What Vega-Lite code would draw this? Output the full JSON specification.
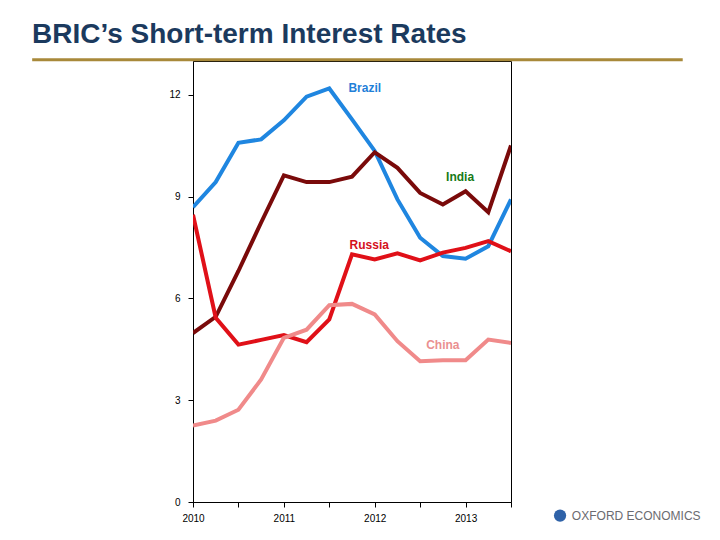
{
  "$schema": "https://vega.github.io/schema/vega-lite/v6.json",
  "autosize": {"type": "none"},
  "width": 318,
  "height": 441,
  "padding": {"left": 193, "top": 61, "right": 209, "bottom": 38},
  "background": "white",
  "config": {
    "font": "Liberation Sans",
    "view": {"stroke": "black", "strokeWidth": 1},
    "axis": {"grid": false, "domainColor": "black", "tickColor": "black", "labelColor": "black", "labelFontSize": 10, "labelFont": "Liberation Sans", "title": null}
  },
  "title": {
    "text": "BRIC’s Short-term Interest Rates",
    "anchor": "start",
    "frame": "group",
    "dx": -161,
    "offset": 9,
    "font": "Liberation Sans",
    "fontSize": 28,
    "fontWeight": "bold",
    "color": "#1b3a5e"
  },
  "datasets": {
    "rates": [
      {"date": 2010.0, "country": "Brazil", "rate": 8.69},
      {"date": 2010.25, "country": "Brazil", "rate": 9.43},
      {"date": 2010.5, "country": "Brazil", "rate": 10.59},
      {"date": 2010.75, "country": "Brazil", "rate": 10.69},
      {"date": 2011.0, "country": "Brazil", "rate": 11.25},
      {"date": 2011.25, "country": "Brazil", "rate": 11.95},
      {"date": 2011.5, "country": "Brazil", "rate": 12.19},
      {"date": 2011.75, "country": "Brazil", "rate": 11.28},
      {"date": 2012.0, "country": "Brazil", "rate": 10.35},
      {"date": 2012.25, "country": "Brazil", "rate": 8.92},
      {"date": 2012.5, "country": "Brazil", "rate": 7.79},
      {"date": 2012.75, "country": "Brazil", "rate": 7.25},
      {"date": 2013.0, "country": "Brazil", "rate": 7.17},
      {"date": 2013.25, "country": "Brazil", "rate": 7.54},
      {"date": 2013.5, "country": "Brazil", "rate": 8.92},
      {"date": 2010.0, "country": "India", "rate": 4.98},
      {"date": 2010.25, "country": "India", "rate": 5.46},
      {"date": 2010.5, "country": "India", "rate": 6.81},
      {"date": 2010.75, "country": "India", "rate": 8.24},
      {"date": 2011.0, "country": "India", "rate": 9.63},
      {"date": 2011.25, "country": "India", "rate": 9.43},
      {"date": 2011.5, "country": "India", "rate": 9.43},
      {"date": 2011.75, "country": "India", "rate": 9.59},
      {"date": 2012.0, "country": "India", "rate": 10.31},
      {"date": 2012.25, "country": "India", "rate": 9.85},
      {"date": 2012.5, "country": "India", "rate": 9.11},
      {"date": 2012.75, "country": "India", "rate": 8.77},
      {"date": 2013.0, "country": "India", "rate": 9.16},
      {"date": 2013.25, "country": "India", "rate": 8.54},
      {"date": 2013.5, "country": "India", "rate": 10.51},
      {"date": 2010.0, "country": "Russia", "rate": 8.47},
      {"date": 2010.25, "country": "Russia", "rate": 5.43},
      {"date": 2010.5, "country": "Russia", "rate": 4.64},
      {"date": 2010.75, "country": "Russia", "rate": 4.78},
      {"date": 2011.0, "country": "Russia", "rate": 4.92},
      {"date": 2011.25, "country": "Russia", "rate": 4.71},
      {"date": 2011.5, "country": "Russia", "rate": 5.38},
      {"date": 2011.75, "country": "Russia", "rate": 7.3},
      {"date": 2012.0, "country": "Russia", "rate": 7.15},
      {"date": 2012.25, "country": "Russia", "rate": 7.33},
      {"date": 2012.5, "country": "Russia", "rate": 7.12},
      {"date": 2012.75, "country": "Russia", "rate": 7.35},
      {"date": 2013.0, "country": "Russia", "rate": 7.49},
      {"date": 2013.25, "country": "Russia", "rate": 7.69},
      {"date": 2013.5, "country": "Russia", "rate": 7.39},
      {"date": 2010.0, "country": "China", "rate": 2.25},
      {"date": 2010.25, "country": "China", "rate": 2.4},
      {"date": 2010.5, "country": "China", "rate": 2.72},
      {"date": 2010.75, "country": "China", "rate": 3.61},
      {"date": 2011.0, "country": "China", "rate": 4.84},
      {"date": 2011.25, "country": "China", "rate": 5.08},
      {"date": 2011.5, "country": "China", "rate": 5.8},
      {"date": 2011.75, "country": "China", "rate": 5.84},
      {"date": 2012.0, "country": "China", "rate": 5.53},
      {"date": 2012.25, "country": "China", "rate": 4.74},
      {"date": 2012.5, "country": "China", "rate": 4.15},
      {"date": 2012.75, "country": "China", "rate": 4.18},
      {"date": 2013.0, "country": "China", "rate": 4.18},
      {"date": 2013.25, "country": "China", "rate": 4.79},
      {"date": 2013.5, "country": "China", "rate": 4.69}
    ],
    "labels": [
      {"date": 2011.89, "rate": 12.19, "country": "Brazil"},
      {"date": 2012.94, "rate": 9.57, "country": "India"},
      {"date": 2011.94, "rate": 7.59, "country": "Russia"},
      {"date": 2012.75, "rate": 4.64, "country": "China"}
    ]
  },
  "layer": [
    {
      "data": {"values": [{"name": "rule"}]},
      "mark": {"type": "rule", "color": "#a8893a", "strokeWidth": 3},
      "encoding": {
        "x": {"datum": 2008.23, "type": "quantitative", "scale": {"domain": [2010, 2013.5]}},
        "x2": {"datum": 2015.39},
        "y": {"datum": 13.04, "type": "quantitative"}
      }
    },
    {
      "data": {"name": "rates"},
      "mark": {"type": "line", "strokeWidth": 4, "strokeJoin": "miter", "clip": true},
      "encoding": {
        "x": {
          "field": "date",
          "type": "quantitative",
          "scale": {"domain": [2010, 2013.5], "nice": false, "zero": false},
          "axis": {
            "values": [2010, 2010.25, 2010.5, 2010.75, 2011, 2011.25, 2011.5, 2011.75, 2012, 2012.25, 2012.5, 2012.75, 2013, 2013.25, 2013.5],
            "labelExpr": "datum.value % 1 == 0 ? format(datum.value, 'd') : ''",
            "tickSize": 5,
            "labelPadding": 6,
            "labelFlush": false,
            "labelOverlap": false
          }
        },
        "y": {
          "field": "rate",
          "type": "quantitative",
          "scale": {"domain": [0, 13], "nice": false},
          "axis": {"values": [0, 3, 6, 9, 12], "tickSize": 5, "labelPadding": 8}
        },
        "color": {
          "field": "country",
          "type": "nominal",
          "scale": {
            "domain": ["Brazil", "India", "Russia", "China"],
            "range": ["#1f86e0", "#7a0a0a", "#e01018", "#f08a8a"]
          },
          "legend": null
        },
        "order": {"field": "date"}
      }
    },
    {
      "data": {"name": "labels"},
      "mark": {"type": "text", "fontSize": 12, "fontWeight": "bold", "font": "Liberation Sans"},
      "encoding": {
        "x": {"field": "date", "type": "quantitative"},
        "y": {"field": "rate", "type": "quantitative"},
        "text": {"field": "country"},
        "color": {
          "field": "country",
          "type": "nominal",
          "scale": {
            "domain": ["Brazil", "India", "Russia", "China"],
            "range": ["#1f80d8", "#177a17", "#d41020", "#ea9090"]
          },
          "legend": null
        }
      }
    },
    {
      "data": {"values": [{"logo": "OXFORD ECONOMICS"}]},
      "layer": [
        {
          "mark": {"type": "point", "filled": true, "size": 150, "color": "#2f62a8", "opacity": 1},
          "encoding": {
            "x": {"datum": 2014.04, "type": "quantitative"},
            "y": {"datum": -0.4, "type": "quantitative"}
          }
        },
        {
          "mark": {"type": "text", "align": "left", "baseline": "middle", "fontSize": 12, "color": "#6b6b70", "font": "Liberation Sans"},
          "encoding": {
            "x": {"datum": 2014.17, "type": "quantitative"},
            "y": {"datum": -0.4, "type": "quantitative"},
            "text": {"field": "logo"}
          }
        }
      ]
    }
  ],
  "resolve": {"scale": {"color": "independent"}}
}
